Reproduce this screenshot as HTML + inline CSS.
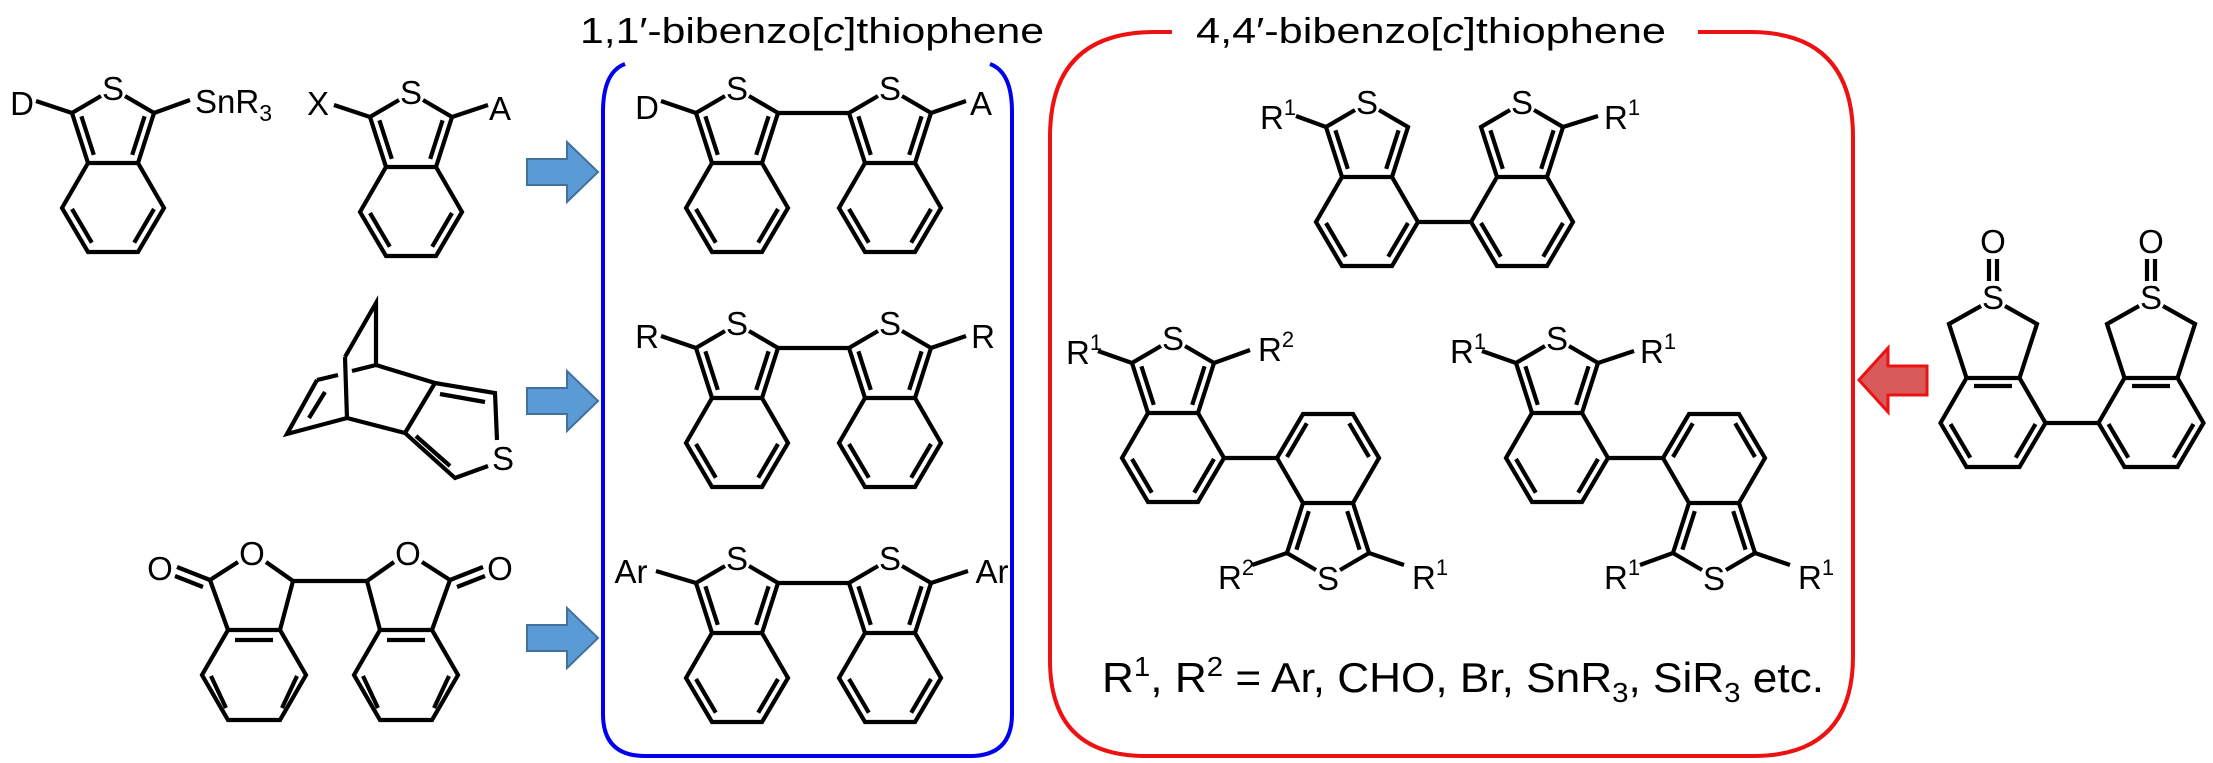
<!DOCTYPE html>
<html><head><meta charset="utf-8"><style>
html,body{margin:0;padding:0;background:#fff;}
svg{display:block;}
text{font-family:"Liberation Sans",Arial,sans-serif;fill:#000;}
</style></head><body>
<svg width="2213" height="763" viewBox="0 0 2213 763" xmlns="http://www.w3.org/2000/svg">
<defs>
<g id="u" fill="none" stroke="#000" stroke-width="4.2" stroke-linejoin="miter">
<path d="M-12,8 L-41,25 L-25,75 L-51,120 L-25,164 L25,164 L51,120 L25,75 L41,25 L12,8 M-25,75 L25,75"/>
<path d="M-31.6,28.3 L-19.2,66.9 M31.6,28.3 L19.2,66.9 M-41,121 L-21.2,154.7 M41,121 L21.2,154.7"/>
</g>
<g id="so" fill="none" stroke="#000" stroke-width="4.2">
<path d="M-4,-38 L-4,-16 M4,-38 L4,-16 M-12,9 L-44,27 L-26.5,81 M12,9 L44,27 L26.5,81"/>
<path d="M-26.5,81 L26.5,81 L52.5,126 L26.5,170 L-26.5,170 L-52.5,126 Z"/>
<path d="M-19,89 L19,89 M42.5,127.1 L22.7,160.7 M-42.5,127.1 L-22.7,160.7"/>
</g>
<polygon id="ba" points="598,0 567,-30 567,-13 527,-13 527,13 567,13 567,30" fill="#5b9bd5" stroke="#41719c" stroke-width="2"/>
</defs>

<text x="580" y="43" font-size="36" textLength="464" lengthAdjust="spacingAndGlyphs">1,1′-bibenzo[<tspan font-style="italic">c</tspan>]thiophene</text>
<text x="1196" y="43" font-size="36" textLength="470" lengthAdjust="spacingAndGlyphs">4,4′-bibenzo[<tspan font-style="italic">c</tspan>]thiophene</text>

<path d="M625,64 Q603,72 603,112 L603,714 Q603,756 645,756 L970,756 Q1012,756 1012,714 L1012,112 Q1012,72 990,64" fill="none" stroke="#0000ee" stroke-width="4"/>
<path d="M1172,32 L1155,32 Q1050,32 1050,137 L1050,660 Q1050,756 1146,756 L1753,756 Q1853,756 1853,656 L1853,137 Q1853,32 1750,32 L1698,32" fill="none" stroke="#ee1111" stroke-width="4"/>

<use href="#ba" transform="translate(0,172)"/>
<use href="#ba" transform="translate(0,401)"/>
<use href="#ba" transform="translate(0,638)"/>
<polygon points="1859,380 1888,348 1888,366 1927,366 1927,395 1888,395 1888,412" fill="#d85a5a" stroke="#ee1111" stroke-width="3"/>

<g fill="none" stroke="#000" stroke-width="4.2">
<path d="M72,113 L36,101 M154,113 L190,100 M370,117 L334,105 M452,117 L488,105"/>
<path d="M778,113 L849,113 M696,113 L661,101 M931,113 L966,101"/>
<path d="M778,348 L849,348 M696,348 L661,336 M931,348 L966,336"/>
<path d="M778,583 L849,583 M696,583 L656,571 M931,583 L968,571"/>
<path d="M1418,222 L1471,222 M1326,127 L1296,116 M1563,127 L1598,116"/>
<path d="M1224,458 L1277,458 M1132,363 L1098,351 M1214,363 L1250,350 M1287,553 L1252,565 M1369,553 L1404,565"/>
<path d="M1608,458 L1663,458 M1516,363 L1482,351 M1598,363 L1634,351 M1673,553 L1640,565 M1755,553 L1790,565"/>
<path d="M2046,423 L2099,423"/>
<path d="M345,357 L376,303 L376,365 M345,357 L347,418 M317,380 L338,375 M352,371 L376,365 M317,380 L287,434 L347,418 L405,433 M376,365 L435,383 L405,433 M325,392 L309,418"/>
<path d="M435,383 L495,393 L497,440 M488,466 L455,478 L405,433 M440,394 L485,402 M416,436 L450,466"/>
<path d="M210,580 L228,630 M293,581 L280,630 M210,580 L238,562 M266,562 L293,581 M293,581 L367,581 M210,580 L177,567 M203,587 L175,576"/>
<path d="M228,630 L280,630 L306,675 L280,720 L228,720 L202,675 Z M235,640 L273,640 M211,676 L226,708 M297,676 L282,708"/>
<path d="M450,580 L432,630 M367,581 L380,630 M450,580 L422,562 M394,562 L367,581 M450,580 L483,567 M457,587 L485,576"/>
<path d="M380,630 L432,630 L458,675 L432,720 L380,720 L354,675 Z M387,640 L425,640 M363,676 L378,708 M449,676 L434,708"/>
</g>

<use href="#u" transform="translate(113,88)"/>
<use href="#u" transform="translate(411,92)"/>
<use href="#u" transform="translate(737,88)"/>
<use href="#u" transform="translate(890,88)"/>
<use href="#u" transform="translate(737,323)"/>
<use href="#u" transform="translate(890,323)"/>
<use href="#u" transform="translate(737,558)"/>
<use href="#u" transform="translate(890,558)"/>
<use href="#u" transform="translate(1367,102)"/>
<use href="#u" transform="translate(1522,102)"/>
<use href="#u" transform="translate(1173,338)"/>
<use href="#u" transform="translate(1328,578) scale(1,-1)"/>
<use href="#u" transform="translate(1557,338)"/>
<use href="#u" transform="translate(1714,578) scale(1,-1)"/>
<use href="#so" transform="translate(1993,297)"/>
<use href="#so" transform="translate(2151,297)"/>

<g font-size="33" text-anchor="middle">
<text x="113" y="100">S</text>
<text x="22" y="115">D</text>
<text x="411" y="104">S</text>
<text x="318" y="115">X</text>
<text x="500" y="120">A</text>
<text x="503" y="470">S</text>
<text x="160" y="580">O</text>
<text x="252" y="565">O</text>
<text x="408" y="565">O</text>
<text x="500" y="580">O</text>
<text x="737" y="100">S</text><text x="890" y="100">S</text>
<text x="647" y="119">D</text><text x="981" y="115">A</text>
<text x="737" y="335">S</text><text x="890" y="335">S</text>
<text x="647" y="348">R</text><text x="983" y="348">R</text>
<text x="737" y="570">S</text><text x="890" y="570">S</text>
<text x="631" y="583">Ar</text><text x="992" y="583">Ar</text>
<text x="1367" y="114">S</text><text x="1522" y="114">S</text>
<text x="1173" y="350">S</text>
<text x="1328" y="590">S</text>
<text x="1557" y="350">S</text>
<text x="1714" y="590">S</text>
<text x="1993" y="253">O</text><text x="1993" y="309">S</text>
<text x="2151" y="253">O</text><text x="2151" y="309">S</text>
</g>
<g font-size="33">
<text x="195" y="113">SnR<tspan font-size="23" dy="8">3</tspan></text>
<text x="1260" y="129">R<tspan font-size="22" dy="-14">1</tspan></text>
<text x="1604" y="129">R<tspan font-size="22" dy="-14">1</tspan></text>
<text x="1066" y="364">R<tspan font-size="22" dy="-14">1</tspan></text>
<text x="1258" y="361">R<tspan font-size="22" dy="-14">2</tspan></text>
<text x="1218" y="589">R<tspan font-size="22" dy="-14">2</tspan></text>
<text x="1412" y="589">R<tspan font-size="22" dy="-14">1</tspan></text>
<text x="1450" y="363">R<tspan font-size="22" dy="-14">1</tspan></text>
<text x="1640" y="363">R<tspan font-size="22" dy="-14">1</tspan></text>
<text x="1604" y="589">R<tspan font-size="22" dy="-14">1</tspan></text>
<text x="1798" y="589">R<tspan font-size="22" dy="-14">1</tspan></text>
</g>
<text x="1102" y="692" font-size="42" textLength="722" lengthAdjust="spacingAndGlyphs">R<tspan font-size="28" dy="-16">1</tspan><tspan dy="16">, R</tspan><tspan font-size="28" dy="-16">2</tspan><tspan dy="16"> = Ar, CHO, Br, SnR</tspan><tspan font-size="28" dy="10">3</tspan><tspan dy="-10">, SiR</tspan><tspan font-size="28" dy="10">3</tspan><tspan dy="-10"> etc.</tspan></text>
</svg>
</body></html>
